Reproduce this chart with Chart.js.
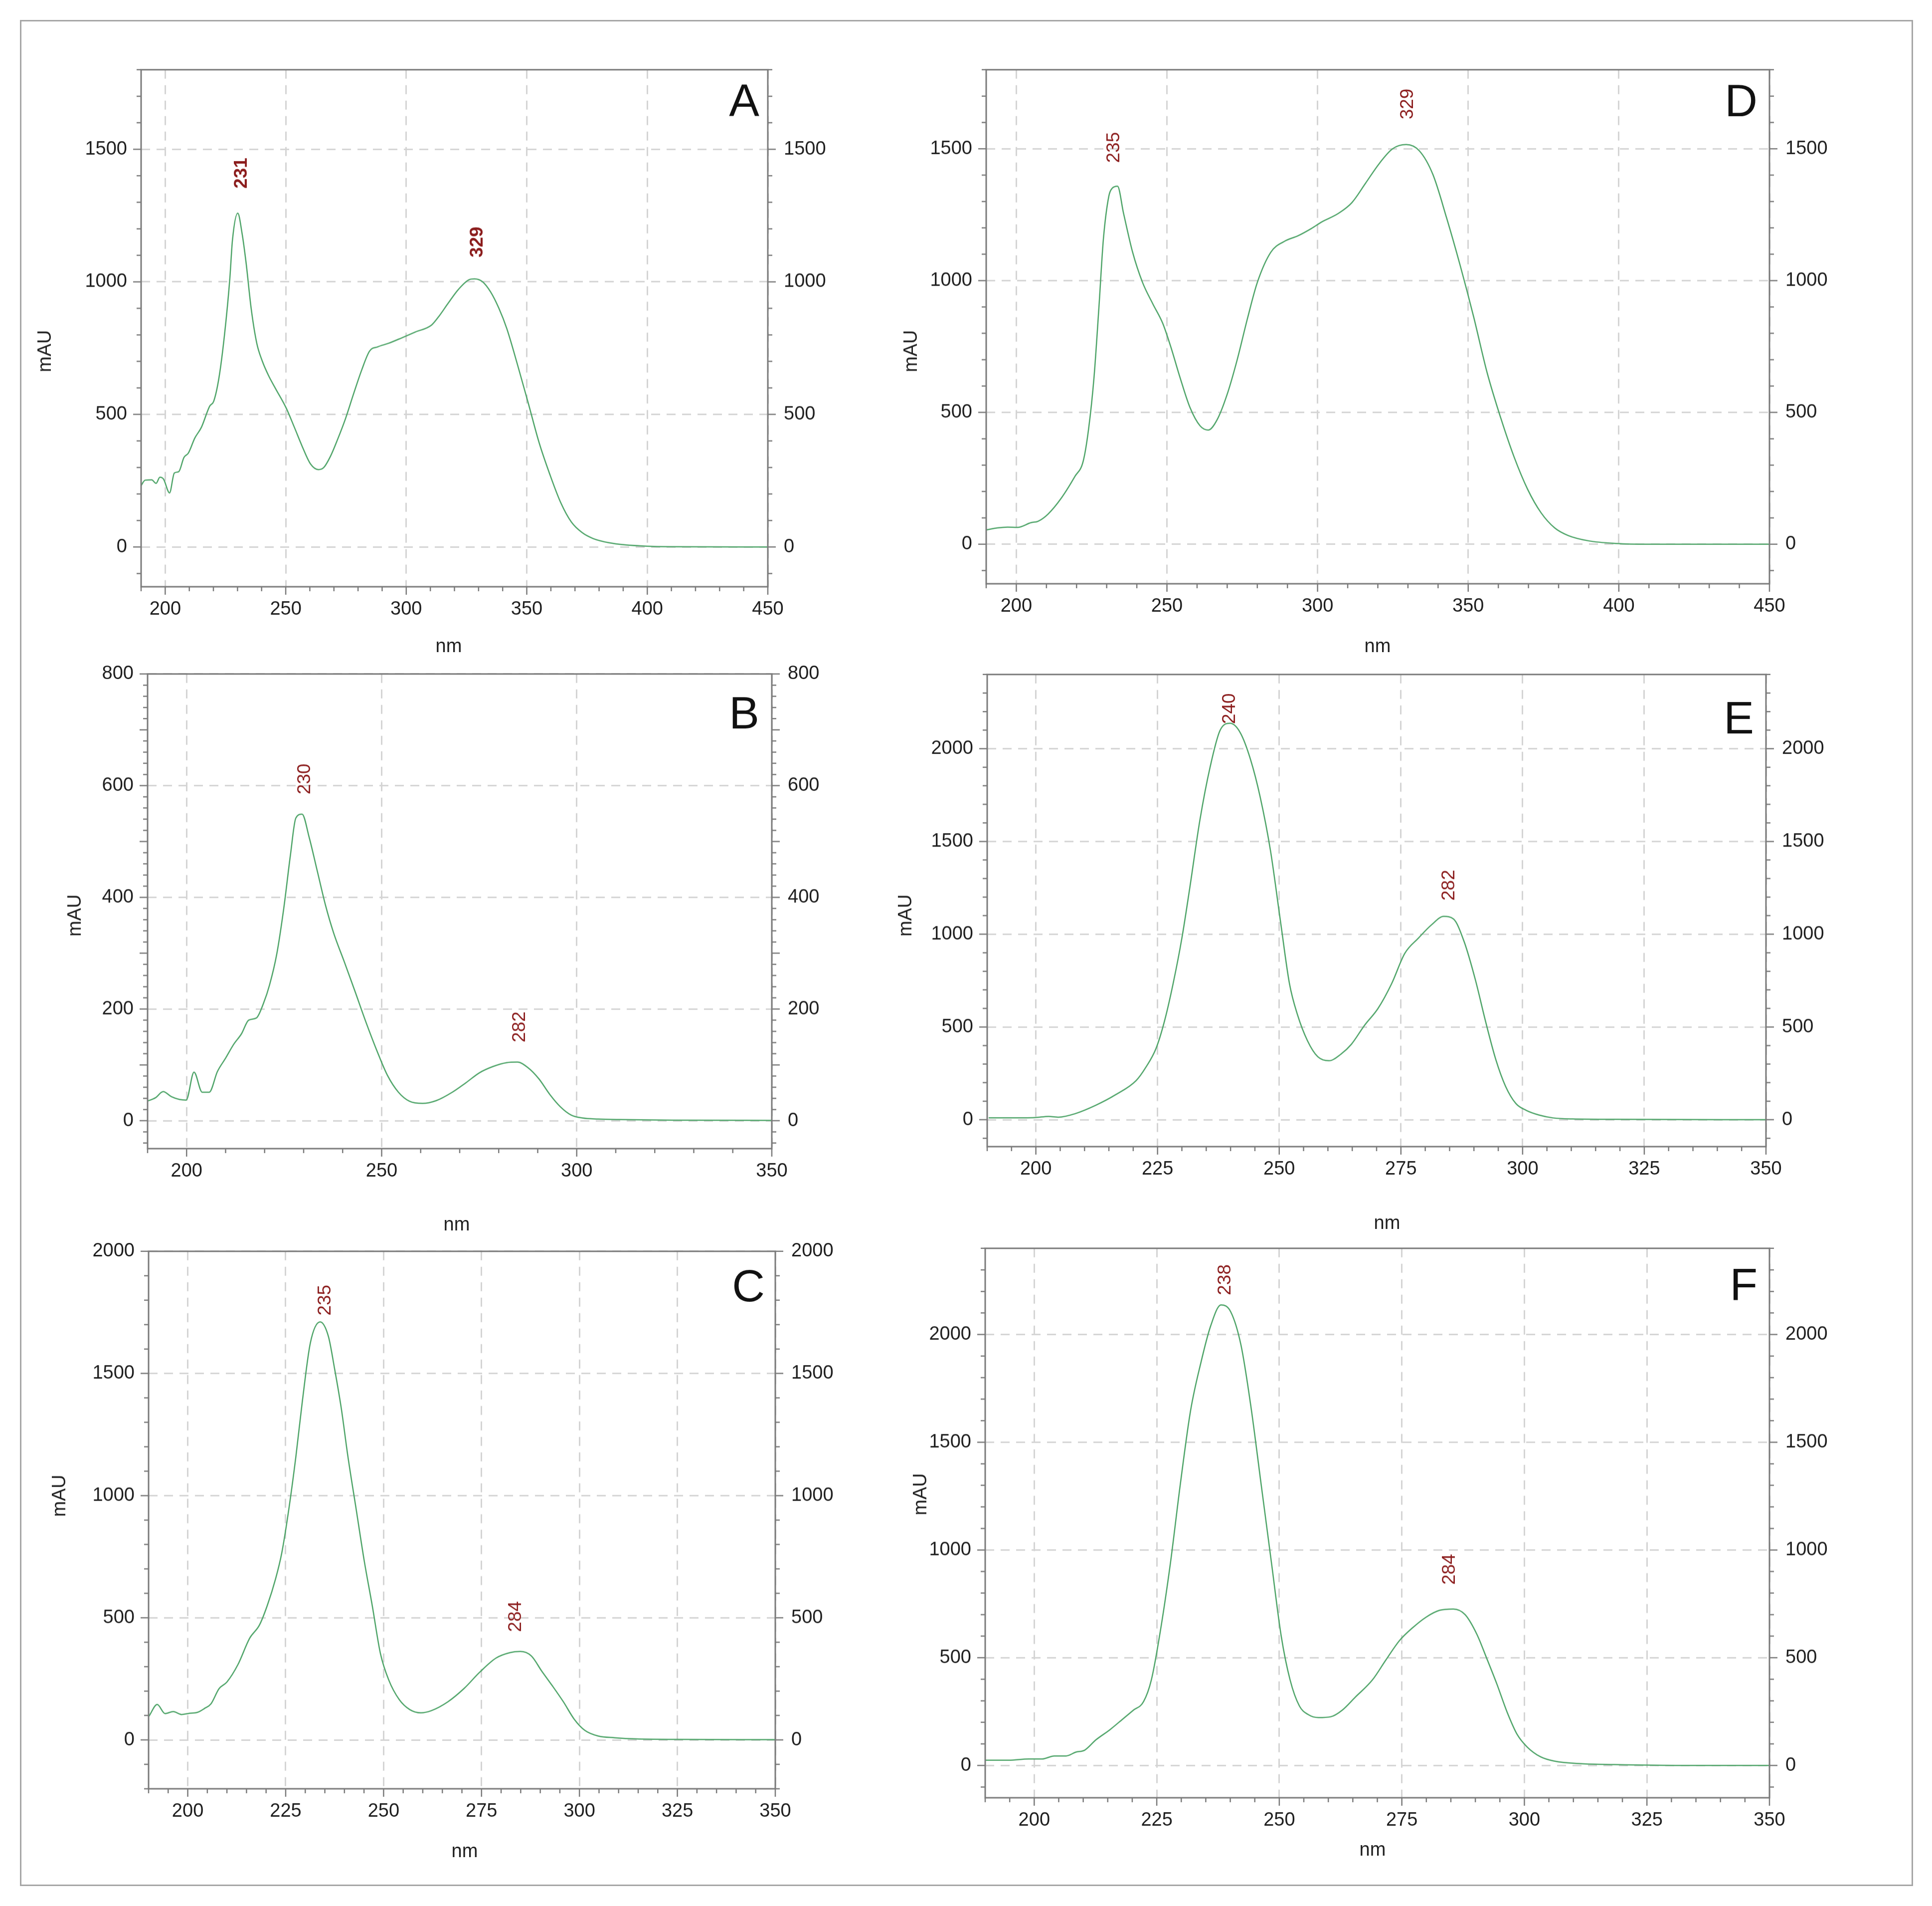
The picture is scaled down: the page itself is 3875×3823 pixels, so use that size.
<!DOCTYPE html>
<html>
<head>
<meta charset="utf-8">
<script src="https://cdn.jsdelivr.net/npm/chart.js@4.4.1/dist/chart.umd.min.js"></script>
<style>
  body { margin: 0; background: #fff; }
  #page { position: relative; width: 3875px; height: 3823px; background: #fff; }
  #frame { position: absolute; left: 40px; top: 40px; width: 3797px; height: 3743px; box-sizing: border-box; border: 3px solid #a6a6a6; }
  canvas { position: absolute; }
</style>
</head>
<body>
<div id="page"><div id="frame"></div></div>
<script>
// ---- spectra (wavelength nm / absorbance mAU) ----
const wlA = [190,191.7,194.4,196.2,197.8,199.3,201.8,203.8,205.6,207.8,209.6,212.3,215,218.5,220.1,222.3,224.6,226.8,227.9,230.1,231.9,233.5,235.7,238,240.2,242.9,245.8,250.2,253.6,256.9,260.3,263.6,265.8,268.5,271.4,274.8,278.1,281.5,284.8,288.2,292.6,298.2,303.8,310.5,313.8,317.2,321.6,326.1,328.3,331.7,335,338.4,341.7,346.2,350.7,355.1,359.6,364.1,368.5,373,377.5,384.1,390.8,399.8,408.7,450];
const absA = [232,252,253,240,263,256,204,279,284,338,354,411,451,532,549,638,800,1011,1157,1259,1182,1076,897,768,703,646,597,524,451,378,313,292,300,341,403,484,576,667,739,755,768,789,811,837,873,917,971,1008,1011,1000,962,901,824,686,540,394,273,167,94,54,32,16,8,3,1,0];

const wlB = [189.9,192,194,196.1,198.2,199.9,201.9,204,205.8,207.9,210,212,214.1,215.9,217.9,219.7,221.3,223.1,224.9,226.6,228,229.6,231.4,233.5,235.6,237.7,240.4,243.2,246,248.8,251.5,254.3,257.1,260.5,264,268.1,271.6,275.1,278.5,282,284.8,287.5,290.3,293.1,295.8,298.6,301.4,305.5,311,324.9,350];
const absB = [35,41,52,43,38,37,87,51,51,88,112,136,156,180,184,210,244,298,380,475,542,549,508,447,386,336,285,231,176,125,81,51,35,31,36,51,68,86,97,104,105,95,75,47,25,10,5,3,2,1,0.5];

const wlC = [190.1,192.2,194.2,196.3,198.4,200.4,202.5,204.3,205.9,208,210,212.8,215.8,218.3,220.3,222.4,224,225.8,227.6,229.3,231.3,233.8,235.9,237.5,239.2,240.9,243,245.1,247.1,249.2,251.3,254,256.7,259.5,262.2,266.4,270.5,274.6,278.7,282.2,284.9,287.7,290.4,293.2,295.9,298.7,301.4,304.8,309,314.5,325.4,350];
const absC = [97,145,108,116,104,109,113,129,147,210,237,308,416,470,550,658,765,944,1159,1392,1625,1711,1652,1518,1357,1159,944,729,550,353,246,165,124,111,120,156,210,278,335,357,362,344,281,219,156,84,39,16,9,4,2,1];

const wlD = [189.9,193.7,197.1,200.4,204.9,207.2,210.5,215,219.5,222.2,224,225.8,227.4,228.9,230.7,231.8,233.6,235.6,238.6,241.9,245.3,248.6,251.3,254.3,257.6,261,263.7,266.6,270,273.3,276.7,280,284.5,289,293.5,298,301.3,306.9,311.4,315.9,320.4,324.9,329.4,333.8,338.3,342.8,347.3,351.8,356.3,360.8,365.2,369.7,374.2,378.7,383.2,389.9,398.9,410.1,450];
const absD = [54,62,65,64,82,87,114,176,258,315,438,634,895,1157,1320,1350,1358,1255,1108,993,912,838,748,634,520,449,433,471,569,699,855,993,1108,1149,1170,1198,1222,1255,1296,1369,1443,1500,1516,1492,1402,1239,1059,863,650,479,332,209,119,62,33,13,3,0,0];

const wlE = [190.3,194.3,199.9,202.6,204.7,208.1,212.3,216.4,220.6,222.6,224.7,226.4,228.2,230,231.6,233.7,235.8,237.8,239.9,242,244.1,246.1,248.2,250.3,252.1,253.7,255.8,257.9,260.2,262.7,264.8,267.5,270.3,273.1,275.8,278.6,281.3,283.8,285.8,288,290.3,292.4,294.5,296.5,298.6,300.7,303.4,306.2,310.3,318.6,350];
const absE = [10,10,12,18,14,33,78,135,211,283,385,529,734,979,1246,1615,1901,2096,2137,2086,1942,1738,1451,1061,734,570,426,340,318,354,406,508,600,734,897,979,1051,1096,1082,959,754,529,324,180,88,51,25,10,4,2,0];

const wlF = [190.1,194.8,198.9,201.6,204.1,206.5,208.5,210.3,212.6,215.4,218.1,220.2,222.3,223.9,225.7,227.8,229.8,231.9,234,236,238.1,240.1,242.2,244.2,246.3,248.4,250.4,252.2,254.1,255.9,258,260.5,262.8,265.5,269,271.7,274.5,277.2,280,282.7,285.5,287.9,290.3,292.3,294.4,296.5,298.5,300.6,303.3,306.1,311.6,318.4,332.2,350];
const absF = [24,24,30,30,44,44,62,71,119,165,216,256,296,397,619,941,1304,1647,1869,2040,2137,2105,1949,1667,1304,941,599,397,276,236,222,226,256,317,397,488,579,639,689,720,726,700,609,498,377,246,145,85,40,20,8,4,0,0];

// peak labels
const peaksA = ['231', '329'];
const peaksB = ['230', '282'];
const peaksC = ['235', '284'];
const peaksD = ['235', '329'];
const peaksE = ['240', '282'];
const peaksF = ['238', '284'];

// tick labels
const xTicksWide = [200, 250, 300, 350, 400, 450];
const xTicksB = [200, 250, 300, 350];
const xTicksNarrow = [200, 225, 250, 275, 300, 325, 350];
const yTicks1500 = [0, 500, 1000, 1500];
const yTicksB = [0, 200, 400, 600, 800];
const yTicks2000 = [0, 500, 1000, 1500, 2000];

// ---- styling ----
const FONT = "'Liberation Sans', Arial, sans-serif";
const LINE = '#4ea468';
const AXIS = '#7a7a7a';
const GRID = '#d4d4d4';
const PEAK = '#8b1c1c';
const TEXT = '#1e1e1e';
const PAD_L = 220, PAD_R = 220, PAD_T = 40, PAD_B = 200;

// box = plot area [left, top, right, bottom] on the page
const panels = [
  { letter: 'A', box: [283, 140, 1540, 1177], wl: wlA, abs: absA, xMin: 190, xMax: 450, xTicks: xTicksWide, xMinor: 10,
    yMin: -150, yMax: 1800, yTicks: yTicks1500, yMinor: 100, peaks: peaksA, peakAt: [[231.7, 1410], [329.5, 1150]], bold: true,
    mau: [92, 704], nm: [900, 1297], letterAt: [1523, 167] },
  { letter: 'D', box: [1978, 140, 3549, 1171], wl: wlD, abs: absD, xMin: 190, xMax: 450, xTicks: xTicksWide, xMinor: 10,
    yMin: -150, yMax: 1800, yTicks: yTicks1500, yMinor: 100, peaks: peaksD, peakAt: [[232.5, 1505], [330, 1670]],
    mau: [1829, 704], nm: [2763, 1297], letterAt: [3525, 168] },
  { letter: 'B', box: [296, 1352, 1548, 2304], wl: wlB, abs: absB, xMin: 190, xMax: 350, xTicks: xTicksB, xMinor: 10,
    yMin: -50, yMax: 800, yTicks: yTicksB, yMinor: 20, yMid: 100, peaks: peaksB, peakAt: [[230.3, 612], [285.4, 168]],
    mau: [152, 1836], nm: [916, 2457], letterAt: [1523, 1396] },
  { letter: 'E', box: [1980, 1353, 3542, 2300], wl: wlE, abs: absE, xMin: 190, xMax: 350, xTicks: xTicksNarrow, xMinor: 5,
    yMin: -145, yMax: 2400, yTicks: yTicks2000, yMinor: 100, peaks: peaksE, peakAt: [[239.9, 2216], [284.9, 1264]],
    mau: [1818, 1836], nm: [2782, 2454], letterAt: [3518, 1406] },
  { letter: 'C', box: [298, 2510, 1555, 3588], wl: wlC, abs: absC, xMin: 190, xMax: 350, xTicks: xTicksNarrow, xMinor: 5,
    yMin: -200, yMax: 2000, yTicks: yTicks2000, yMinor: 100, peaks: peaksC, peakAt: [[235.2, 1800], [283.8, 505]],
    mau: [121, 3000], nm: [932, 3714], letterAt: [1534, 2545] },
  { letter: 'F', box: [1976, 2504, 3549, 3606], wl: wlF, abs: absF, xMin: 190, xMax: 350, xTicks: xTicksNarrow, xMinor: 5,
    yMin: -150, yMax: 2400, yTicks: yTicks2000, yMinor: 100, peaks: peaksF, peakAt: [[239, 2254], [284.8, 910]],
    mau: [1848, 2997], nm: [2753, 3711], letterAt: [3525, 2542] }
];

function steps(min, max, step) {
  const out = [];
  for (let v = Math.ceil(min / step) * step; v <= max + 1e-9; v += step) out.push(v);
  return out;
}

// frame, minor ticks, peak labels, axis titles, panel letter
function overlay(p, org) {
  return {
    id: 'overlay' + p.letter,
    afterDatasetsDraw(chart) {
      const ctx = chart.ctx, a = chart.chartArea;
      const xs = chart.scales.x, ys = chart.scales.y;
      const ox = org.x, oy = org.y;
      ctx.save();
      ctx.strokeStyle = AXIS;
      ctx.lineWidth = 3;
      ctx.strokeRect(a.left, a.top, a.right - a.left, a.bottom - a.top);

      ctx.lineWidth = 2.5;
      ctx.beginPath();
      steps(p.xMin, p.xMax, p.xMinor).forEach(v => {
        const px = xs.getPixelForValue(v);
        const len = p.xTicks.includes(v) ? 16 : 9;
        ctx.moveTo(px, a.bottom); ctx.lineTo(px, a.bottom + len);
      });
      steps(p.yMin, p.yMax, p.yMinor).forEach(v => {
        const py = ys.getPixelForValue(v);
        const big = p.yTicks.includes(v) || (p.yMid && v % p.yMid === 0);
        const len = big ? 16 : 9;
        ctx.moveTo(a.left - len, py); ctx.lineTo(a.left, py);
        ctx.moveTo(a.right, py); ctx.lineTo(a.right + len, py);
      });
      ctx.stroke();

      // peak wavelengths
      ctx.fillStyle = PEAK;
      ctx.font = (p.bold ? 'bold ' : '') + '37px ' + FONT;
      ctx.textAlign = 'center';
      ctx.textBaseline = 'middle';
      p.peaks.forEach((t, i) => {
        ctx.save();
        ctx.translate(xs.getPixelForValue(p.peakAt[i][0]), ys.getPixelForValue(p.peakAt[i][1]));
        ctx.rotate(-Math.PI / 2);
        ctx.fillText(t, 0, 0);
        ctx.restore();
      });

      // axis titles
      ctx.fillStyle = TEXT;
      ctx.font = '38px ' + FONT;
      ctx.save();
      ctx.translate(p.mau[0] - ox, p.mau[1] - oy);
      ctx.rotate(-Math.PI / 2);
      ctx.fillText('mAU', 0, 0);
      ctx.restore();
      ctx.fillText('nm', p.nm[0] - ox, p.nm[1] - oy);

      // panel letter
      ctx.fillStyle = '#111';
      ctx.font = '91px ' + FONT;
      ctx.textAlign = 'right';
      ctx.textBaseline = 'alphabetic';
      ctx.fillText(p.letter, p.letterAt[0] - ox, p.letterAt[1] + 65 - oy);
      ctx.restore();
    }
  };
}

const page = document.getElementById('page');

// off = distances from canvas edges to the plot area
function build(p, off) {
  const [l, t, r, b] = p.box;
  const org = { x: l - off.l, y: t - off.t };
  const w = r - l + off.l + off.r, h = b - t + off.t + off.b;
  const cv = document.createElement('canvas');
  cv.width = w; cv.height = h;
  cv.style.left = org.x + 'px'; cv.style.top = org.y + 'px';
  cv.style.width = w + 'px'; cv.style.height = h + 'px';
  page.appendChild(cv);

  const n = Math.min(p.wl.length, p.abs.length);
  const pts = [];
  for (let i = 0; i < n; i++) pts.push({ x: p.wl[i], y: p.abs[i] });

  const tickFont = { family: FONT, size: 38 };
  const setTicks = list => s => { s.ticks = list.map(v => ({ value: v })); };

  const chart = new Chart(cv, {
    type: 'line',
    data: {
      datasets: [{
        data: pts,
        borderColor: LINE,
        borderWidth: 2.5,
        pointRadius: 0,
        fill: false,
        cubicInterpolationMode: 'monotone'
      }]
    },
    options: {
      responsive: false,
      maintainAspectRatio: false,
      animation: false,
      devicePixelRatio: 1,
      layout: { padding: { top: PAD_T, left: 0, right: 0, bottom: 0 } },
      plugins: { legend: { display: false }, tooltip: { enabled: false } },
      scales: {
        x: {
          type: 'linear', position: 'bottom', min: p.xMin, max: p.xMax,
          afterBuildTicks: setTicks(p.xTicks),
          afterFit: s => { s.height = PAD_B; },
          grid: { color: GRID, lineWidth: 3, drawTicks: false },
          border: { display: false, dash: [18, 13] },
          ticks: { font: tickFont, color: TEXT, padding: 23, autoSkip: false, maxRotation: 0, callback: v => String(v) }
        },
        y: {
          type: 'linear', position: 'left', min: p.yMin, max: p.yMax,
          afterBuildTicks: setTicks(p.yTicks),
          afterFit: s => { s.width = PAD_L; },
          grid: { color: GRID, lineWidth: 3, drawTicks: false },
          border: { display: false, dash: [18, 13] },
          ticks: { font: tickFont, color: TEXT, padding: 28, autoSkip: false, callback: v => String(v) }
        },
        y2: {
          type: 'linear', position: 'right', display: true, min: p.yMin, max: p.yMax,
          afterBuildTicks: setTicks(p.yTicks),
          afterFit: s => { s.width = PAD_R; },
          grid: { display: false, drawTicks: false },
          border: { display: false },
          ticks: { font: tickFont, color: TEXT, padding: 32, autoSkip: false, callback: v => String(v) }
        }
      }
    },
    plugins: [overlay(p, org)]
  });
  return { chart, cv, w, h };
}

panels.forEach(p => {
  // first pass: find where the library puts the plot area, then rebuild so it lands on p.box
  const probe = build(p, { l: PAD_L, t: PAD_T, r: PAD_R, b: PAD_B });
  const a = probe.chart.chartArea;
  const off = { l: a.left, t: a.top, r: probe.w - a.right, b: probe.h - a.bottom };
  probe.chart.destroy();
  probe.cv.remove();
  build(p, off);
});
</script>
</body>
</html>
